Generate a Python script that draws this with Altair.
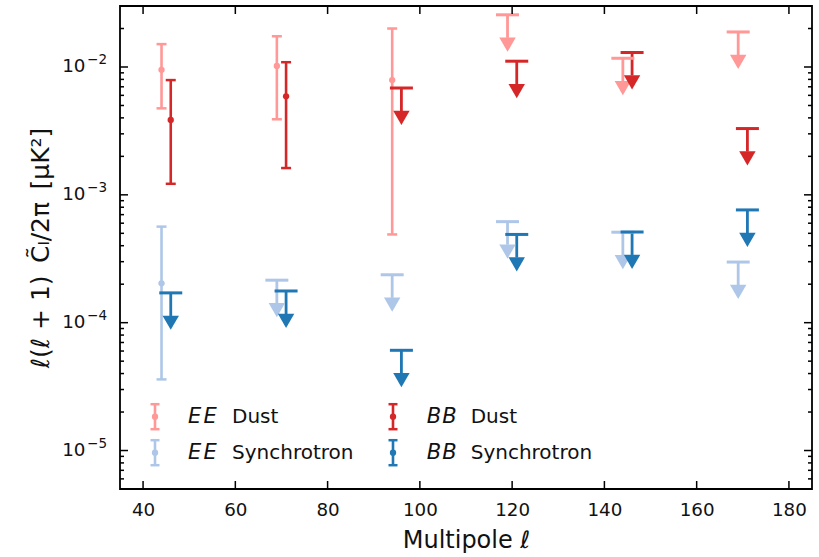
import altair as alt
import pandas as pd

# Multipole bin centres (BB bins drawn slightly offset from EE)
ell_ee = [44, 69, 94, 119, 144, 169]
ell_bb = [46, 71, 96, 121, 146, 171]

# EE dust: detections in the first three bins, upper limits after
ee_dust_val = [9.5e-3, 1.02e-2, 7.9e-3]
ee_dust_lo = [4.75e-3, 3.9e-3, 4.9e-4]
ee_dust_hi = [1.51e-2, 1.74e-2, 2.0e-2]
ee_dust_lim = [2.56e-2, 1.17e-2, 1.88e-2]

# BB dust: two detections, four upper limits
bb_dust_val = [3.85e-3, 5.9e-3]
bb_dust_lo = [1.22e-3, 1.62e-3]
bb_dust_hi = [7.9e-3, 1.09e-2]
bb_dust_lim = [6.85e-3, 1.11e-2, 1.30e-2, 3.3e-3]

# EE synchrotron: one detection, five upper limits
ee_sync_val = [2.03e-4]
ee_sync_lo = [3.6e-5]
ee_sync_hi = [5.64e-4]
ee_sync_lim = [2.15e-4, 2.37e-4, 6.17e-4, 5.1e-4, 2.98e-4]

# BB synchrotron: upper limits only
bb_sync_lim = [1.71e-4, 1.77e-4, 6.08e-5, 4.9e-4, 5.13e-4, 7.62e-4]

series = ["EE Dust", "EE Synchrotron", "BB Dust", "BB Synchrotron"]
colors = ["#ff9896", "#aec7e8", "#d62728", "#1f77b4"]

x_ticks = [40, 60, 80, 100, 120, 140, 160, 180]
y_decades = [1e-5, 1e-4, 1e-3, 1e-2]
y_exponents = ["−5", "−4", "−3", "−2"]

X_DOMAIN = [35, 185]
Y_DOMAIN = [5e-6, 3e-2]
W, H = 692, 483
ARROW = 0.66  # length of the upper-limit shaft as a multiplicative factor

# ---- tables -----------------------------------------------------------
det_rows, lim_rows = [], []
spec = [
    ("EE Dust", ell_ee, ee_dust_val, ee_dust_lo, ee_dust_hi, ee_dust_lim),
    ("EE Synchrotron", ell_ee, ee_sync_val, ee_sync_lo, ee_sync_hi, ee_sync_lim),
    ("BB Dust", ell_bb, bb_dust_val, bb_dust_lo, bb_dust_hi, bb_dust_lim),
    ("BB Synchrotron", ell_bb, [], [], [], bb_sync_lim),
]
for name, ells, val, lo, hi, lim in spec:
    n = len(val)
    for i in range(n):
        det_rows.append(dict(series=name, ell=ells[i], val=val[i], lo=lo[i], hi=hi[i]))
    for j, v in enumerate(lim):
        lim_rows.append(dict(series=name, ell=ells[n + j], lim=v, end=v * ARROW))
det = pd.DataFrame(det_rows)
lim = pd.DataFrame(lim_rows)

minor = [m * 10.0**e for e in range(-6, -1) for m in range(2, 10)]
minor = [v for v in minor if Y_DOMAIN[0] < v < Y_DOMAIN[1]]

xs = alt.Scale(domain=X_DOMAIN, nice=False, zero=False)
ys = alt.Scale(type="log", domain=Y_DOMAIN, nice=False)
col = alt.Color("series:N", scale=alt.Scale(domain=series, range=colors), legend=None)

FONT = "DejaVu Sans"
INK = "#111111"

x_axis = alt.Axis(
    values=x_ticks, ticks=False, tickSize=0, domain=False, grid=False,
    labelFont=FONT, labelFontSize=18.3, labelColor=INK, labelPadding=26,
    labelBaseline="alphabetic",
    title="Multipole ℓ", titleFont=FONT, titleFontSize=24, titleFontWeight="normal",
    titleColor=INK, titleY=58, titleX=W / 2, titleBaseline="alphabetic",
)
y_axis = alt.Axis(
    values=y_decades, ticks=False, tickSize=0, domain=False, grid=False, labels=False,
    title="ℓ(ℓ + 1)\u2002C̃ₗ/2π\u2002[μK²]", titleFont=FONT, titleFontSize=25,
    titleFontWeight="normal", titleColor=INK, titleAngle=-90,
    titleX=-72, titleY=H / 2, titleAlign="center", titleBaseline="alphabetic",
)


def X(field):
    return alt.X(field, scale=xs, axis=x_axis)


def Y(field):
    return alt.Y(field, scale=ys, axis=y_axis)


base_det = alt.Chart(det)
err_bar = base_det.mark_rule(strokeWidth=2.6, opacity=1).encode(
    x=X("ell:Q"), y=Y("lo:Q"), y2="hi:Q", color=col
)
cap_lo = base_det.mark_tick(orient="horizontal", size=10, thickness=2.5, opacity=1).encode(
    x=X("ell:Q"), y=Y("lo:Q"), color=col
)
cap_hi = base_det.mark_tick(orient="horizontal", size=10, thickness=2.5, opacity=1).encode(
    x=X("ell:Q"), y=Y("hi:Q"), color=col
)
dots = base_det.mark_circle(size=40, opacity=1).encode(
    x=X("ell:Q"), y=Y("val:Q"), color=col
)

base_lim = alt.Chart(lim)
shaft = base_lim.mark_rule(strokeWidth=2.8, opacity=1).encode(
    x=X("ell:Q"), y=Y("end:Q"), y2="lim:Q", color=col
)
lim_cap = base_lim.mark_tick(orient="horizontal", size=23, thickness=3, opacity=1).encode(
    x=X("ell:Q"), y=Y("lim:Q"), color=col
)
head = base_lim.mark_point(
    shape="triangle-down", filled=True, size=270, opacity=1, yOffset=6.8, strokeWidth=0
).encode(x=X("ell:Q"), y=Y("end:Q"), color=col)


# ---- inward ticks on all four sides ------------------------------------
def yticks(values, length, right):
    x0, x1 = (W - length, W) if right else (0, length)
    return alt.Chart(pd.DataFrame({"v": values})).mark_rule(
        color="black", strokeWidth=1.5
    ).encode(y=Y("v:Q"), x=alt.value(x0), x2=alt.value(x1))


def xticks(values, length, top):
    y0, y1 = (0, length) if top else (H - length, H)
    return alt.Chart(pd.DataFrame({"v": values})).mark_rule(
        color="black", strokeWidth=1.5
    ).encode(x=X("v:Q"), y=alt.value(y0), y2=alt.value(y1))


frame_ticks = [
    yticks(y_decades, 8, False), yticks(y_decades, 8, True),
    yticks(minor, 4, False), yticks(minor, 4, True),
    xticks(x_ticks, 8, False), xticks(x_ticks, 8, True),
]

# ---- y tick labels: mantissa "10" plus a raised exponent --------------------
ylab = pd.DataFrame({"v": y_decades, "exp": y_exponents})
ylab_base = alt.Chart(ylab).mark_text(
    text="10", font=FONT, fontSize=18.3, align="right", baseline="middle", color=INK
).encode(y=Y("v:Q"), x=alt.value(-34.5))
ylab_exp = alt.Chart(ylab).mark_text(
    font=FONT, fontSize=13.5, align="right", baseline="middle", color=INK, dy=-7
).encode(y=Y("v:Q"), x=alt.value(-13), text="exp:N")

# ---- legend (two columns) -----------------------------------------------
legend_layers = []
one = pd.DataFrame({"k": [0]})
cols_x = [(35, 188 - 120, 232 - 120), (273, 426.7 - 120, 470.7 - 120)]
rows_y = [410.7, 446.7]
LETTER = 15.5  # advance of each italic polarisation letter
legend_order = [("EE", "Dust", 0, 0), ("BB", "Dust", 1, 0),
                ("EE", "Synchrotron", 0, 1), ("BB", "Synchrotron", 1, 1)]
for pol, comp, c, r in legend_order:
    colr = colors[series.index(f"{pol} {comp}")]
    ix, tx, wx = cols_x[c]
    yy = rows_y[r]
    b = alt.Chart(one)
    legend_layers += [
        b.mark_rule(color=colr, strokeWidth=2.6).encode(
            x=alt.value(ix), y=alt.value(yy - 13), y2=alt.value(yy + 13)),
        b.mark_rule(color=colr, strokeWidth=2.5).encode(
            x=alt.value(ix - 4.5), x2=alt.value(ix + 4.5), y=alt.value(yy - 12.5)),
        b.mark_rule(color=colr, strokeWidth=2.5).encode(
            x=alt.value(ix - 4.5), x2=alt.value(ix + 4.5), y=alt.value(yy + 12.5)),
        b.mark_circle(color=colr, size=40, opacity=1).encode(
            x=alt.value(ix), y=alt.value(yy)),
        b.mark_text(text=comp, font=FONT, fontSize=20, align="left",
                    baseline="middle", color=INK).encode(x=alt.value(wx), y=alt.value(yy)),
    ]
    for k, letter in enumerate(pol):
        legend_layers.append(
            b.mark_text(text=letter, font=FONT, fontSize=21, fontStyle="italic", align="left",
                        baseline="middle", color=INK).encode(
                x=alt.value(tx + k * LETTER), y=alt.value(yy))
        )

chart = alt.layer(
    err_bar, cap_lo, cap_hi, dots, shaft, lim_cap, head, *frame_ticks,
    ylab_base, ylab_exp, *legend_layers
).properties(
    width=W, height=H,
    autosize=alt.AutoSizeParams(type="none"),
    padding={"left": 120, "top": 6, "right": 7, "bottom": 68},
    background="white",
).configure_view(
    stroke="black", strokeWidth=1.8
)

chart.save("out.html", embed_options={"renderer": "svg", "actions": False})
